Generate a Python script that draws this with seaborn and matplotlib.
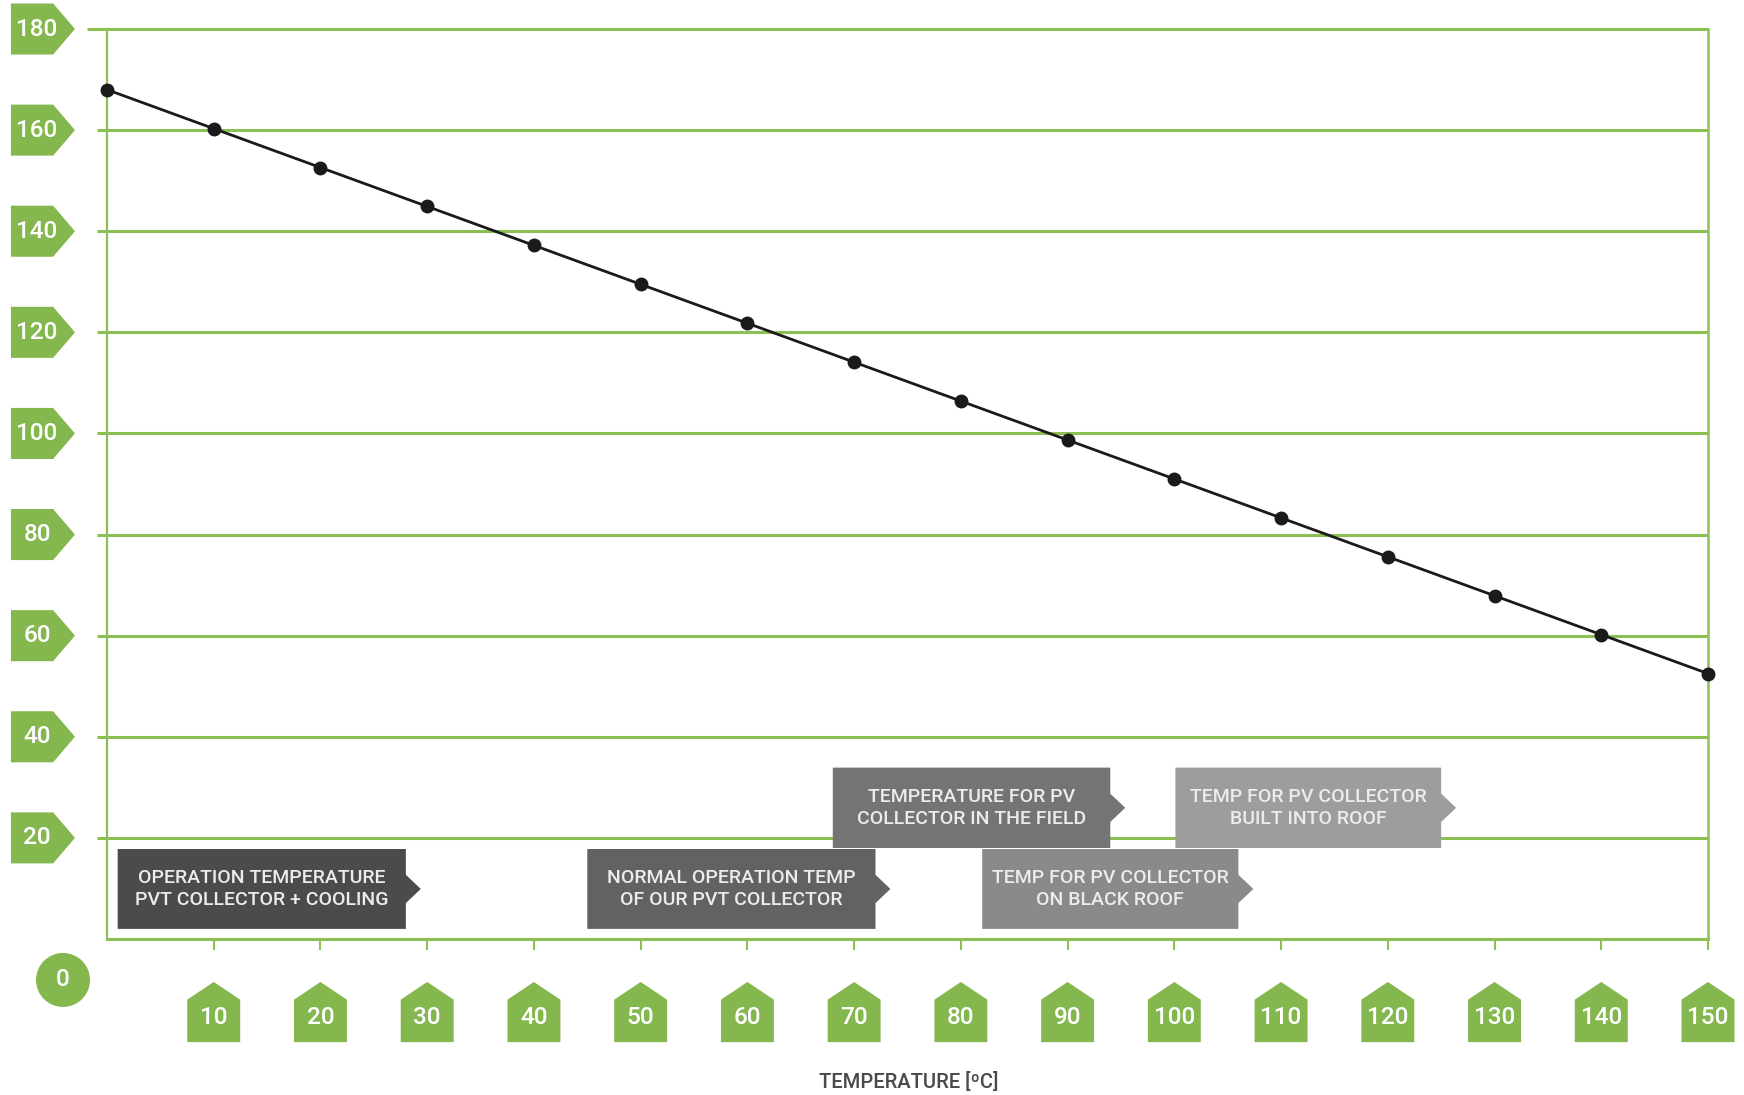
import matplotlib
matplotlib.use("Agg")
import matplotlib.pyplot as plt
import seaborn as sns
import pandas as pd
from matplotlib.patches import Polygon, Ellipse

# ---- data ----
temperatures = [0, 10, 20, 30, 40, 50, 60, 70, 80, 90, 100, 110, 120, 130, 140, 150]
values = [168.0, 160.3, 152.6, 144.9, 137.2, 129.5, 121.8, 114.1, 106.4, 98.7,
          91.0, 83.3, 75.6, 67.9, 60.2, 52.5]
y_ticks = [20, 40, 60, 80, 100, 120, 140, 160, 180]
x_ticks = [10, 20, 30, 40, 50, 60, 70, 80, 90, 100, 110, 120, 130, 140, 150]
x_label = "TEMPERATURE [ºC]"
notes = [
    "OPERATION TEMPERATURE\nPVT COLLECTOR + COOLING",
    "NORMAL OPERATION TEMP\nOF OUR PVT COLLECTOR",
    "TEMPERATURE FOR PV\nCOLLECTOR IN THE FIELD",
    "TEMP FOR PV COLLECTOR\nON BLACK ROOF",
    "TEMP FOR PV COLLECTOR\nBUILT INTO ROOF",
]
# box extents in data units: x0, x1, y0, y1
note_boxes = [
    (1.0, 28.0, 2.0, 17.8),
    (45.0, 72.0, 2.0, 17.8),
    (68.0, 94.0, 18.0, 33.9),
    (82.0, 106.0, 2.0, 17.8),
    (100.1, 125.0, 18.0, 33.9),
]
note_colors = ["#4b4b4b", "#626262", "#747474", "#8a8a8a", "#9d9d9d"]

df = pd.DataFrame({"temperature": temperatures, "value": values})

sns.set_theme(style="white")
plt.rcParams["font.family"] = ["Roboto", "DejaVu Sans"]

GREEN = "#84b74e"
GRID = "#8cc055"
BADGE_FS = 17.5

fig = plt.figure(figsize=(17.44, 10.95), dpi=100)
fig.patch.set_facecolor("white")
ax = fig.add_axes([107 / 1744, 1 - 939 / 1095, (1708 - 107) / 1744, (939 - 29) / 1095])
ax.set_facecolor("white")
ax.set_xlim(0, 150)
ax.set_ylim(0, 180)

# grid lines
for yv in y_ticks:
    start = -1.9 if yv == 180 else -0.9
    ax.plot([start, 150], [yv, yv], color=GRID, lw=2.2, zorder=1, clip_on=False,
            solid_capstyle="butt")

ax.spines["top"].set_visible(False)
for side in ["left", "right", "bottom"]:
    ax.spines[side].set_color(GRID)
ax.spines["left"].set_linewidth(1.6)
ax.spines["right"].set_linewidth(1.8)
ax.spines["bottom"].set_linewidth(2.2)

ax.set_xticks(x_ticks)
ax.set_yticks([])
ax.tick_params(axis="x", direction="out", length=8, width=1.5, color=GRID,
               labelbottom=False, bottom=True)

# data line
sns.lineplot(data=df, x="temperature", y="value", ax=ax, color="#1a1a1a",
             linewidth=2.0, marker="o", markersize=10, markeredgewidth=0,
             zorder=5, clip_on=False)
ax.set_xlabel("")
ax.set_ylabel("")

# y badges (pentagons pointing right)
for yv in y_ticks:
    h = 5.05
    poly = Polygon([(-9.0, yv - h), (-5.05, yv - h), (-3.0, yv), (-5.05, yv + h), (-9.0, yv + h)],
                   closed=True, facecolor=GREEN, edgecolor="none", clip_on=False, zorder=3)
    ax.add_patch(poly)
    ax.text(-6.55, yv, str(yv), color="white", fontsize=BADGE_FS, fontweight="medium",
            ha="center", va="center", clip_on=False, zorder=4)

# x badges (houses pointing up)
for xv in x_ticks:
    w = 2.48
    poly = Polygon([(xv - w, -20.4), (xv + w, -20.4), (xv + w, -12.0), (xv, -8.5), (xv - w, -12.0)],
                   closed=True, facecolor=GREEN, edgecolor="none", clip_on=False, zorder=3)
    ax.add_patch(poly)
    ax.text(xv, -15.6, str(xv), color="white", fontsize=BADGE_FS, fontweight="medium",
            ha="center", va="center", clip_on=False, zorder=4)

# zero circle
ax.add_patch(Ellipse((-4.12, -8.1), 54 / 10.673, 54 / 5.056, facecolor=GREEN,
                     edgecolor="none", clip_on=False, zorder=3))
ax.text(-4.12, -8.1, "0", color="white", fontsize=BADGE_FS, fontweight="medium",
        ha="center", va="center", clip_on=False, zorder=4)

# annotation boxes with arrow notch
for text, (x0, x1, y0, y1), col in zip(notes, note_boxes, note_colors):
    yc = (y0 + y1) / 2
    ah = 2.8
    tip = x1 + 1.4
    poly = Polygon([(x0, y0), (x1, y0), (x1, yc - ah), (tip, yc), (x1, yc + ah), (x1, y1), (x0, y1)],
                   closed=True, facecolor=col, edgecolor="none", zorder=6)
    ax.add_patch(poly)
    ax.text((x0 + x1) / 2, yc, text, color="#ececec", fontsize=14, fontweight="medium",
            ha="center", va="center", linespacing=1.3, zorder=7)

fig.text(909 / 1744, 1 - 1082 / 1095, x_label, color="#4a4a4a", fontsize=14.5,
         fontweight="medium", ha="center", va="center")

fig.savefig("out.png", dpi=100, facecolor="white")
